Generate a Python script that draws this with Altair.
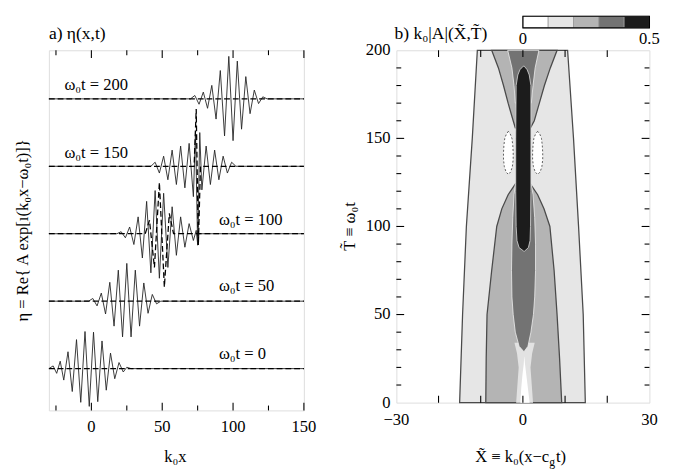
import altair as alt
import pandas as pd

# ---------------- left panel: surface elevation snapshots ----------------
labels_t = ["ω₀t = 0", "ω₀t = 50", "ω₀t = 100", "ω₀t = 150", "ω₀t = 200"]

p0_x = [-30, -27, -24.5, -22, -19.5, -16.5, -13.5, -10.5, -7.5, -4.5, -1.5, 1.5, 4.5, 7.5, 10.5, 13.5, 16.5, 19.5, 22.5, 25, 28, 150]
p0_y = [0, 0.04, -0.07, 0.11, -0.17, 0.25, -0.34, 0.43, -0.50, 0.55, -0.56, 0.54, -0.49, 0.41, -0.32, 0.23, -0.15, 0.09, -0.05, 0.02, 0, 0]

p1_x = [-30, -2, 1, 4, 7, 10, 13, 16, 19, 22, 25, 28, 31, 34, 37, 40, 43, 46, 49, 150]
p1_y = [0, 0, 0.04, -0.07, 0.12, -0.19, 0.28, -0.37, 0.46, -0.53, 0.56, -0.53, 0.46, -0.37, 0.27, -0.18, 0.10, -0.04, 0, 0]

p2_x = [-30, 18, 21, 24, 27, 30, 33, 36, 39, 42, 45, 48, 51, 54, 57, 60, 63, 66, 69, 72, 74, 75, 76, 150]
p2_y = [0, 0, 0.03, -0.06, 0.10, -0.16, 0.25, -0.36, 0.48, -0.58, 0.64, -0.66, 0.60, -0.50, 0.40, -0.32, 0.25, -0.20, 0.15, -0.10, 0.05, -0.15, 0, 0]

p3_x = [-30, 42, 45, 48, 51, 54, 57, 60, 63, 66, 69, 72, 73.5, 75, 76.5, 78, 81, 84, 87, 90, 93, 96, 99, 102, 150]
p3_y = [0, 0, 0.06, -0.10, 0.15, -0.20, 0.24, -0.27, 0.30, -0.32, 0.34, -0.45, 0.52, -1.17, 0.50, -0.35, 0.30, -0.27, 0.24, -0.20, 0.15, -0.10, 0.06, 0, 0]

p4_x = [-30, 70, 73, 76, 79, 82, 85, 88, 91, 94, 97, 100, 103, 106, 109, 112, 115, 118, 121, 124, 150]
p4_y = [0, 0, 0.05, -0.08, 0.10, -0.14, 0.20, -0.30, 0.42, -0.55, 0.63, -0.62, 0.56, -0.45, 0.33, -0.22, 0.13, -0.07, 0.03, 0, 0]

# dashed (envelope-model) curves
d2_x = [-30, 38, 41, 44.5, 48, 51.5, 55, 58, 150]
d2_y = [0, 0, 0.2, -0.5, 0.76, -0.79, 0.3, 0, 0]
d3_x = [-30, 72.5, 74, 75.5, 77, 150]
d3_y = [0, 0, 0.85, -1.17, 0, 0]

left_minor_ticks = [-25, 25, 75, 125]
left_major_ticks = [0, 50, 100, 150]
left_tick_labels = [0, 50, 100, 150]

solid_sets = [(p0_x, p0_y), (p1_x, p1_y), (p2_x, p2_y), (p3_x, p3_y), (p4_x, p4_y)]
dashed_sets = [([-30, 150], [0, 0]), ([-30, 150], [0, 0]), (d2_x, d2_y), (d3_x, d3_y), ([-30, 150], [0, 0])]


def build(sets):
    rows = []
    for k, (xs, ys) in enumerate(sets):
        for i, (xv, yv) in enumerate(zip(xs, ys)):
            rows.append({"pid": k, "ord": i, "x": xv, "y": yv + k})
    return pd.DataFrame(rows)


solid_df = build(solid_sets)
dashed_df = build(dashed_sets)

SERIF = "Liberation Serif"
XL_DOM = [-30, 150]
YL_DOM = [-0.62, 4.72]
XL = alt.Scale(domain=XL_DOM, nice=False, zero=False)
YL = alt.Scale(domain=YL_DOM, nice=False, zero=False)
W1, H1 = 262, 370


def tick_segments(values, along, lo, hi, length, span_px):
    """Short inward tick segments at both ends of the cross-axis (values on `along` axis)."""
    d = length * (hi - lo) / span_px
    rows = []
    tid = 0
    for v in values:
        for a, b in ((lo, lo + d), (hi, hi - d)):
            for k, c in enumerate((a, b)):
                rows.append({"tid": tid, "k": k, along: v, "c": c})
            tid += 1
    return pd.DataFrame(rows)


def lx(f):
    return alt.X(f, scale=XL, axis=None)


def ly(f):
    return alt.Y(f, scale=YL, axis=None)


solid = alt.Chart(solid_df).mark_line(color="#222222", strokeWidth=0.9).encode(
    x=lx("x:Q"), y=ly("y:Q"), detail="pid:N", order="ord:Q")

dashed = alt.Chart(dashed_df).mark_line(color="black", strokeWidth=1.3, strokeDash=[6, 3]).encode(
    x=lx("x:Q"), y=ly("y:Q"), detail="pid:N", order="ord:Q")

lt_df = pd.concat([
    tick_segments(left_major_ticks, "v", YL_DOM[0], YL_DOM[1], 8, H1),
    tick_segments(left_minor_ticks, "v", YL_DOM[0], YL_DOM[1], 5, H1).assign(tid=lambda d: d.tid + 100),
])
lticks = alt.Chart(lt_df).mark_line(color="black", strokeWidth=1.1).encode(
    x=lx("v:Q"), y=ly("c:Q"), detail="tid:N", order="k:Q")

ltl = alt.Chart(pd.DataFrame({"v": left_tick_labels})).mark_text(
    font=SERIF, fontSize=17, align="center", baseline="middle", color="black").encode(
    x=lx("v:Q"), y=alt.value(H1 + 17), text=alt.Text("v:Q", format="d"))

lab_df = pd.DataFrame({"lab": labels_t,
                       "x": [90, 90, 90, -19, -19],
                       "y": [0.22, 1.22, 2.2, 3.2, 4.2]})
labels = alt.Chart(lab_df).mark_text(align="left", baseline="middle", font=SERIF, fontSize=17).encode(
    x=lx("x:Q"), y=ly("y:Q"), text="lab:N")

one = pd.DataFrame({"a": [0]})
title_l = alt.Chart(one).mark_text(align="left", baseline="middle", font=SERIF, fontSize=18).encode(
    x=alt.value(0), y=alt.value(-17), text=alt.value("a) η(x,t)"))
ytitle_l = alt.Chart(one).mark_text(align="center", baseline="middle", font=SERIF, fontSize=17, angle=270).encode(
    x=alt.value(-26), y=alt.value(H1 / 2), text=alt.value("η = Re{ A exp[ı(k₀x−ω₀t)]}"))
xtitle_l = alt.Chart(one).mark_text(align="center", baseline="middle", font=SERIF, fontSize=17).encode(
    x=alt.value(130), y=alt.value(H1 + 48), text=alt.value("k₀x"))

left = alt.layer(solid, dashed, lticks, ltl, labels, title_l, ytitle_l, xtitle_l).properties(
    width=W1, height=H1)

# ---------------- right panel: envelope amplitude contours ----------------
lg_T = [0, 50, 100, 150, 200]
lg_lo = [-15, -14.3, -13.4, -12, -10.8]
lg_hi = [14.8, 14.3, 13.2, 12, 10.6]

mgl_T = [0, 25, 50, 75, 100, 110, 118, 124]
mgl_lo = [-8.8, -8.7, -8.5, -7.4, -6.2, -5, -3.5, -1.8]
mgl_hi = [9.2, 8.7, 8.1, 7.4, 6.4, 5, 3.5, 1.8]

mgt_T = [156, 160, 170, 180, 190, 200]
mgt_lo = [-1.8, -2.3, -3.5, -4.6, -5.8, -7.4]
mgt_hi = [1.8, 2.7, 3.9, 5.1, 6.5, 8.1]

lv_T = [0, 10, 20, 28, 34]
lv_lo = [-1.6, -1.3, -1.0, -1.4, -2.0]
lv_hi = [2.4, 2.1, 1.8, 2.2, 2.8]

wc_T = [0, 8, 16, 22, 26]
wc_lo = [-0.6, -0.4, -0.1, 0.2, 0.3]
wc_hi = [1.6, 1.2, 0.8, 0.5, 0.35]

dgl_T = [29, 32, 40, 50, 60, 75, 90, 105, 118, 124]
dgl_lo = [0.2, -0.9, -1.8, -2.3, -2.6, -2.7, -2.6, -2.4, -2.1, -1.8]
dgl_hi = [0.3, 1.2, 1.9, 2.5, 2.8, 3.0, 3.0, 2.8, 2.4, 2.0]

dgt_T = [170, 180, 190, 200]
dgt_lo = [-1.8, -2.1, -2.6, -3.6]
dgt_hi = [2.0, 2.4, 2.9, 3.8]

bk_T = [86, 88, 92, 100, 120, 150, 180, 186, 189, 191]
bk_lo = [0.2, -0.9, -1.4, -1.6, -1.7, -1.7, -1.6, -1.2, -0.7, 0.1]
bk_hi = [0.4, 1.3, 1.7, 1.8, 1.9, 1.9, 1.9, 1.5, 1.0, 0.3]

hole_T = [129.5, 131, 134, 138, 142, 146, 150, 152.5, 154]
hl_lo = [-3.45, -4.0, -4.4, -4.6, -4.6, -4.5, -4.3, -3.9, -3.45]
hl_hi = [-3.45, -2.9, -2.5, -2.3, -2.3, -2.4, -2.6, -3.0, -3.45]
hr_lo = [3.5, 2.9, 2.5, 2.3, 2.3, 2.4, 2.6, 3.0, 3.5]
hr_hi = [3.5, 4.1, 4.5, 4.7, 4.7, 4.6, 4.4, 4.0, 3.5]

cbar_lo = [0.0, 0.1, 0.2, 0.3, 0.4]
cbar_hi = [0.1, 0.2, 0.3, 0.4, 0.5]
cbar_col = ["#ffffff", "#e6e6e6", "#b4b4b4", "#737373", "#1c1c1c"]

right_xticks = [-20, -10, 0, 10, 20]
right_yminor = [10, 20, 30, 40, 60, 70, 80, 90, 110, 120, 130, 140, 160, 170, 180, 190]
right_ymajor = [50, 100, 150]
right_xlabels = [-30, 0, 30]
right_ylabels = [0, 50, 100, 150, 200]

XR_DOM = [-30, 30]
YR_DOM = [0, 200]
XR = alt.Scale(domain=XR_DOM, nice=False, zero=False)
YR = alt.Scale(domain=YR_DOM, nice=False, zero=False)
W2, H2 = 260, 362


def rx(f):
    return alt.X(f, scale=XR, axis=None)


def ry(f):
    return alt.Y(f, scale=YR, axis=None)


def region(T, lo, hi, fill, stroke=None, sw=1.0, dash=None):
    df = pd.DataFrame({"T": T, "lo": lo, "hi": hi})
    kw = dict(orient="horizontal", fill=fill, fillOpacity=1)
    if stroke is not None:
        kw.update(stroke=stroke, strokeWidth=sw)
    if dash is not None:
        kw.update(strokeDash=dash)
    return alt.Chart(df).mark_area(**kw).encode(y=ry("T:Q"), x=rx("lo:Q"), x2="hi:Q")


dark_line = "#4a4a4a"
areas = [
    region(lg_T, lg_lo, lg_hi, "#e6e6e6", dark_line, 1.3),
    region(mgl_T, mgl_lo, mgl_hi, "#b4b4b4", dark_line, 1.3),
    region(mgt_T, mgt_lo, mgt_hi, "#b4b4b4", dark_line, 1.3),
    region(lv_T, lv_lo, lv_hi, "#e2e2e2"),
    region(wc_T, wc_lo, wc_hi, "#ffffff"),
    region(dgl_T, dgl_lo, dgl_hi, "#737373", "#f0f0f0", 0.8),
    region(dgt_T, dgt_lo, dgt_hi, "#737373", "#f0f0f0", 0.8),
    region(bk_T, bk_lo, bk_hi, "#1c1c1c", "#dddddd", 0.8),
    region(hole_T, hl_lo, hl_hi, "#ffffff", dark_line, 0.9, [2, 2]),
    region(hole_T, hr_lo, hr_hi, "#ffffff", dark_line, 0.9, [2, 2]),
]

rx_df = tick_segments(right_xticks, "v", YR_DOM[0], YR_DOM[1], 7, H2)
rx_ticks = alt.Chart(rx_df).mark_line(color="black", strokeWidth=1.1).encode(
    x=rx("v:Q"), y=ry("c:Q"), detail="tid:N", order="k:Q")
ry_df = pd.concat([
    tick_segments(right_ymajor, "v", XR_DOM[0], XR_DOM[1], 8, W2),
    tick_segments(right_yminor, "v", XR_DOM[0], XR_DOM[1], 5, W2).assign(tid=lambda d: d.tid + 100),
])
ry_ticks = alt.Chart(ry_df).mark_line(color="black", strokeWidth=1.1).encode(
    y=ry("v:Q"), x=rx("c:Q"), detail="tid:N", order="k:Q")

rxl = alt.Chart(pd.DataFrame({"v": right_xlabels})).mark_text(
    font=SERIF, fontSize=17, align="center", baseline="middle", color="black").encode(
    x=rx("v:Q"), y=alt.value(H2 + 18), text=alt.Text("v:Q", format="d"))
ryl = alt.Chart(pd.DataFrame({"v": right_ylabels})).mark_text(
    font=SERIF, fontSize=17, align="right", baseline="middle", color="black").encode(
    y=ry("v:Q"), x=alt.value(-6), text=alt.Text("v:Q", format="d"))

cb_df = pd.DataFrame({"lo": cbar_lo, "hi": cbar_hi, "col": cbar_col})
cbar = alt.Chart(cb_df).transform_calculate(
    xa="datum.lo * 60", xb="datum.hi * 60").mark_rect(stroke="#999999", strokeWidth=0.8).encode(
    x=rx("xa:Q"), x2="xb:Q",
    y=alt.value(-35), y2=alt.value(-23),
    fill=alt.Color("col:N", scale=None))
cb_frame = alt.Chart(one).transform_calculate(l="0", r="30").mark_rect(
    fill=None, stroke="black", strokeWidth=1.2).encode(
    x=rx("l:Q"), x2="r:Q", y=alt.value(-35), y2=alt.value(-23))
cb_lab = alt.Chart(pd.DataFrame({"v": [0.0, 0.5], "t": ["0", "0.5"]})).transform_calculate(
    xp="datum.v * 60").mark_text(font=SERIF, fontSize=17, baseline="middle", align="center").encode(
    x=rx("xp:Q"), y=alt.value(-11), text="t:N")

title_r = alt.Chart(one).mark_text(align="left", baseline="middle", font=SERIF, fontSize=18).encode(
    x=alt.value(-2), y=alt.value(-17), text=alt.value("b) k₀|A|(X̃,T̃)"))
ytitle_r = alt.Chart(one).mark_text(align="center", baseline="middle", font=SERIF, fontSize=17, angle=270).encode(
    x=alt.value(-48), y=alt.value(181), text=alt.value("T̃ ≡ ω₀t"))
xt1 = alt.Chart(one).mark_text(align="right", baseline="middle", font=SERIF, fontSize=17).encode(
    x=alt.value(157), y=alt.value(H2 + 56), text=alt.value("X̃ ≡ k₀(x−c"))
xt2 = alt.Chart(one).mark_text(align="left", baseline="middle", font=SERIF, fontSize=12).encode(
    x=alt.value(157), y=alt.value(H2 + 61), text=alt.value("g"))
xt3 = alt.Chart(one).mark_text(align="left", baseline="middle", font=SERIF, fontSize=17).encode(
    x=alt.value(164), y=alt.value(H2 + 56), text=alt.value("t)"))

right = alt.layer(*areas, rx_ticks, ry_ticks, rxl, ryl, cbar, cb_frame, cb_lab,
                  title_r, ytitle_r, xt1, xt2, xt3).properties(width=W2, height=H2)

chart = alt.hconcat(left, right, spacing=95, bounds="flush").properties(
    padding={"left": 6, "top": 0, "right": 4, "bottom": 4}
).configure_view(stroke="black", strokeWidth=1.2).configure(background="white")

chart.save("out.html", embed_options={"renderer": "svg", "actions": False})
